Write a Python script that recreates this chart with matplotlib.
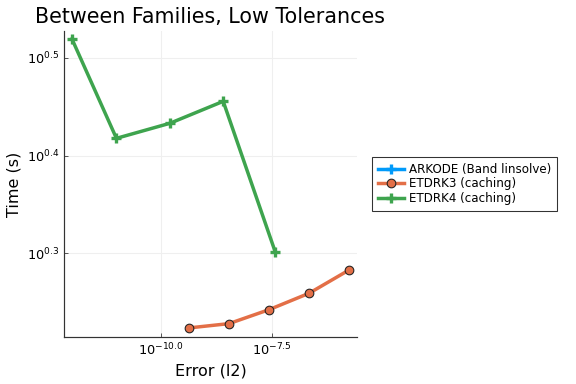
import numpy as np
import matplotlib
matplotlib.use("Agg")
import matplotlib.pyplot as plt
from matplotlib.ticker import FixedLocator, NullLocator

# Data (log10 values)
arkode_err = []
arkode_time = []
etdrk3_logerr = [-9.37, -8.47, -7.57, -6.67, -5.78]
etdrk3_logtime = [0.2235, 0.2279, 0.2422, 0.2590, 0.2826]
etdrk4_logerr = [-12.0, -11.0, -9.80, -8.60, -7.43]
etdrk4_logtime = [0.5195, 0.4177, 0.4331, 0.4556, 0.3013]

xtick_exps = [-10.0, -7.5]
ytick_exps = [0.3, 0.4, 0.5]

etdrk3_err = 10 ** np.array(etdrk3_logerr)
etdrk3_time = 10 ** np.array(etdrk3_logtime)
etdrk4_err = 10 ** np.array(etdrk4_logerr)
etdrk4_time = 10 ** np.array(etdrk4_logtime)

blue = "#009AFA"
orange = "#E36F47"
green = "#3EA44E"

fig = plt.figure(figsize=(6, 4), dpi=96)
ax = fig.add_axes([0.111, 0.1224, 0.509, 0.797])
ax.set_xscale("log")
ax.set_yscale("log")

ax.plot(arkode_err, arkode_time, color=blue, lw=2.6, marker="+", ms=7, mew=2.5,
        label="ARKODE (Band linsolve)")
ax.plot(etdrk3_err, etdrk3_time, color=orange, lw=2.6, marker="o", ms=6.5,
        mfc=orange, mec="#222222", mew=0.8, label="ETDRK3 (caching)")
ax.plot(etdrk4_err, etdrk4_time, color=green, lw=2.6, marker="+", ms=7, mew=2.5,
        label="ETDRK4 (caching)")

ax.set_xlim(10 ** -12.18, 10 ** -5.59)
ax.set_ylim(10 ** 0.2142, 10 ** 0.5277)

ax.xaxis.set_major_locator(FixedLocator([10 ** e for e in xtick_exps]))
ax.xaxis.set_minor_locator(NullLocator())
ax.set_xticklabels([r"$10^{%.1f}$" % e for e in xtick_exps])
ax.yaxis.set_major_locator(FixedLocator([10 ** e for e in ytick_exps]))
ax.yaxis.set_minor_locator(NullLocator())
ax.set_yticklabels([r"$10^{%.1f}$" % e for e in ytick_exps])

ax.grid(True, color="#efefef", lw=0.8)
ax.set_axisbelow(True)
for s in ["top", "right"]:
    ax.spines[s].set_visible(False)
for s in ["left", "bottom"]:
    ax.spines[s].set_color("#333333")
    ax.spines[s].set_linewidth(0.9)
ax.tick_params(direction="in", length=3, width=0.6, labelsize=9.7, colors="#333333", labelcolor="black")

ax.set_xlabel("Error (l2)", fontsize=12)
ax.set_ylabel("Time (s)", fontsize=12)
ax.set_title("Between Families, Low Tolerances", fontsize=15.5, loc="left", x=-0.10)

leg = ax.legend(loc="center left", bbox_to_anchor=(1.03, 0.5), fontsize=8.9,
                frameon=True, fancybox=False, edgecolor="black", handlelength=2.2,
                borderpad=0.5, labelspacing=0.1, handletextpad=0.4)
leg.get_frame().set_linewidth(0.8)

fig.savefig("out.png", dpi=96)
